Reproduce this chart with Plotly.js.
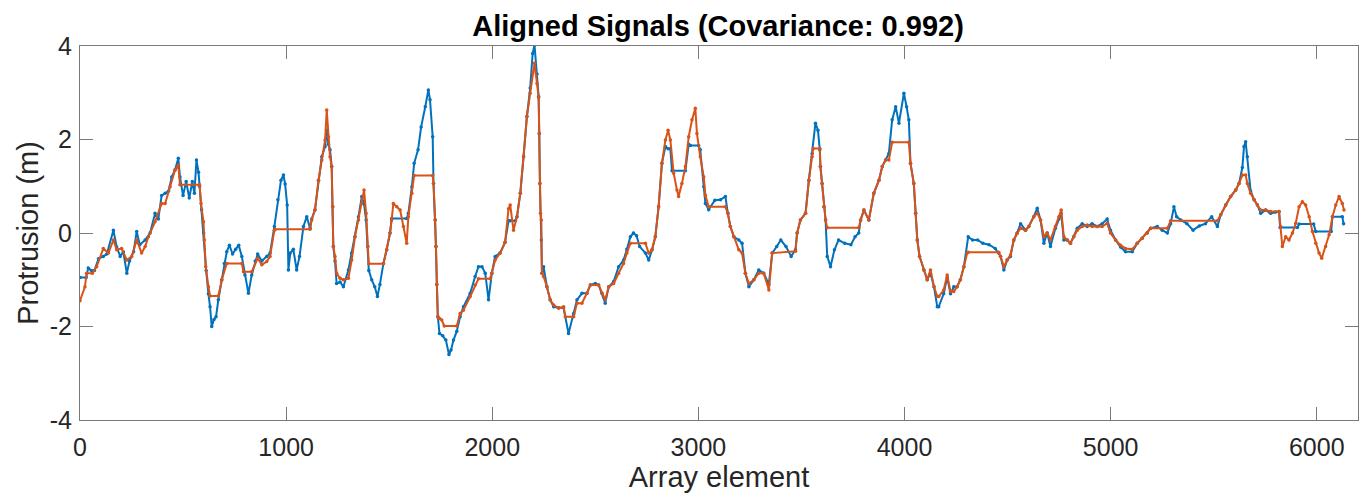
<!DOCTYPE html>
<html>
<head>
<meta charset="utf-8">
<script src="https://cdn.plot.ly/plotly-3.0.1.min.js"></script>
<style>
html,body{margin:0;padding:0;background:#fff;}
#chart{width:1360px;height:496px;}
</style>
</head>
<body>
<div id="chart"></div>
<script>
// Orange series (aligned signal) — element index and protrusion (m)
const orangeX = [0,24,32,60,81,113,138,162,178,202,227,251,275,299,316,332,364,396,413,437,461,477,485,580,587,599,603,610,623,631,671,688,712,785,793,833,862,882,906,922,943,946,1116,1124,1140,1157,1173,1189,1197,1205,1213,1221,1226,1229,1237,1245,1262,1278,1302,1318,1334,1351,1367,1378,1388,1396,1401,1472,1488,1504,1512,1520,1537,1553,1569,1585,1593,1610,1621,1711,1715,1723,1727,1731,1736,1744,1755,1767,1828,1844,1860,1893,1917,1933,1990,1998,2014,2038,2062,2079,2087,2103,2120,2136,2152,2168,2184,2196,2205,2217,2225,2228,2231,2234,2238,2241,2249,2265,2281,2298,2322,2346,2354,2395,2411,2435,2459,2476,2516,2532,2548,2565,2589,2613,2637,2653,2670,2743,2759,2775,2791,2807,2823,2840,2853,2864,2880,2896,2904,2920,2937,2953,2969,2985,2993,3009,3026,3034,3050,3131,3143,3155,3172,3196,3212,3228,3245,3269,3293,3317,3342,3358,3471,3479,3495,3520,3536,3552,3557,3589,3592,3600,3609,3617,3625,3778,3787,3803,3827,3851,3876,3892,3908,3924,3940,4021,4029,4045,4054,4062,4073,4094,4110,4126,4143,4159,4166,4190,4207,4223,4239,4255,4271,4288,4304,4309,4457,4466,4482,4498,4514,4530,4546,4563,4587,4603,4627,4644,4660,4676,4692,4708,4732,4749,4760,4773,4789,4805,4821,4838,4862,4886,4910,4935,4959,4983,4999,5024,5048,5072,5105,5129,5153,5177,5194,5275,5291,5518,5534,5558,5582,5607,5623,5639,5655,5663,5679,5696,5712,5728,5752,5776,5817,5825,5833,5849,5865,5882,5898,5914,5930,5946,5963,5979,5995,6011,6024,6043,6060,6076,6092,6108,6124,6132];
const orangeY = [-1.45,-1.15,-0.86,-0.86,-0.72,-0.33,-0.43,-0.15,-0.36,-0.33,-0.58,-0.5,-0.15,-0.43,-0.29,-0.08,0.24,0.63,0.63,0.99,1.35,1.45,1.03,1.03,0.63,0.24,-0.15,-0.72,-1.15,-1.35,-1.35,-1.0,-0.65,-0.65,-0.83,-0.83,-0.54,-0.68,-0.61,-0.5,0.06,0.08,0.08,0.28,0.49,1.13,1.56,1.99,2.63,2.06,1.63,1.42,0.56,-0.29,-0.5,-0.86,-0.97,-1.0,-0.97,-0.58,-0.08,0.28,0.63,0.92,0.42,-0.29,-0.66,-0.66,-0.36,0.0,0.28,0.63,0.56,0.49,0.14,-0.22,0.35,0.85,1.23,1.23,1.06,0.28,-0.29,-1.1,-1.79,-1.83,-1.86,-1.99,-1.99,-1.72,-1.65,-1.36,-1.11,-0.98,-0.98,-0.86,-0.58,-0.43,-0.2,0.52,0.6,0.06,0.35,0.85,1.63,2.49,2.99,3.42,3.63,3.2,2.9,2.13,1.06,0.42,0.28,-0.86,-0.93,-1.15,-1.43,-1.54,-1.61,-1.58,-1.79,-1.79,-1.5,-1.5,-1.29,-1.11,-1.11,-1.29,-1.43,-1.15,-1.08,-0.86,-0.65,-0.43,-0.22,-0.22,-0.43,-0.36,-0.08,0.56,1.49,1.99,2.2,1.99,1.28,0.92,0.78,1.06,1.42,2.06,2.42,2.67,2.13,1.63,1.2,0.81,0.56,0.56,0.42,0.14,-0.08,-0.36,-0.43,-0.86,-1.08,-1.0,-0.86,-0.86,-1.22,-0.43,-0.39,0.0,0.28,0.42,1.13,1.63,1.81,1.81,1.42,1.06,0.56,0.28,0.11,0.11,0.28,0.49,0.28,0.85,1.13,1.42,1.56,1.56,1.94,1.94,1.49,1.06,0.42,-0.15,-0.5,-0.79,-1.0,-0.79,-1.15,-1.36,-1.36,-1.22,-0.9,-1.25,-1.25,-1.15,-1.0,-0.72,-0.43,-0.41,-0.41,-0.5,-0.72,-0.58,-0.47,-0.15,-0.01,0.1,0.06,0.14,0.35,0.42,0.28,-0.08,0.0,-0.15,0.14,0.35,0.49,-0.08,-0.15,-0.22,-0.08,0.06,0.14,0.17,0.14,0.14,0.14,0.21,0.0,-0.15,-0.26,-0.33,-0.35,-0.22,-0.11,0.0,0.1,0.1,0.26,0.26,0.39,0.6,0.78,0.92,1.06,1.24,1.24,1.06,0.85,0.71,0.6,0.49,0.49,0.46,0.46,0.14,-0.29,-0.08,-0.15,0.0,0.21,0.56,0.67,0.6,0.35,0.03,-0.22,-0.43,-0.54,-0.29,-0.04,0.35,0.6,0.78,0.63,0.49];

// Blue series (reference signal)
const blueX = [0,30,40,55,70,90,113,130,162,178,195,210,227,240,260,275,290,316,340,364,380,396,413,430,445,461,477,485,500,515,530,545,555,565,575,580,590,600,612,623,631,639,650,660,671,688,700,712,725,740,755,770,785,800,817,833,850,862,882,906,922,943,960,975,987,995,1005,1011,1020,1035,1051,1065,1084,1100,1116,1124,1140,1157,1173,1189,1197,1205,1213,1221,1226,1229,1237,1245,1262,1278,1302,1318,1334,1351,1367,1378,1388,1396,1401,1415,1430,1443,1455,1472,1488,1504,1512,1585,1593,1610,1621,1640,1655,1675,1690,1698,1711,1715,1723,1727,1731,1736,1744,1760,1775,1790,1800,1812,1828,1844,1860,1893,1917,1933,1950,1966,1982,1998,2014,2038,2062,2079,2087,2112,2120,2136,2152,2168,2184,2196,2205,2217,2225,2228,2231,2238,2241,2249,2265,2281,2298,2322,2346,2370,2395,2411,2435,2459,2476,2500,2516,2532,2548,2565,2589,2613,2637,2653,2670,2685,2700,2715,2743,2759,2775,2791,2807,2823,2840,2853,2864,2872,2937,2953,2961,3001,3009,3026,3034,3050,3080,3107,3131,3143,3155,3172,3196,3212,3228,3245,3269,3293,3317,3342,3358,3380,3400,3425,3450,3471,3479,3495,3520,3536,3552,3568,3580,3589,3592,3600,3609,3617,3625,3641,3660,3680,3710,3740,3760,3778,3787,3803,3827,3851,3876,3892,3908,3924,3940,3957,3973,3997,4010,4021,4029,4045,4054,4062,4073,4094,4110,4126,4143,4159,4166,4190,4207,4223,4239,4255,4271,4288,4309,4330,4355,4380,4410,4440,4457,4466,4482,4498,4514,4530,4546,4563,4587,4603,4627,4644,4660,4676,4692,4708,4732,4749,4760,4773,4789,4805,4821,4838,4862,4886,4910,4935,4959,4983,4999,5024,5048,5072,5105,5129,5153,5177,5194,5226,5250,5275,5291,5307,5320,5340,5370,5400,5430,5460,5490,5518,5534,5558,5582,5607,5623,5639,5647,5655,5663,5679,5696,5712,5728,5752,5776,5800,5817,5822,5906,5914,5985,5995,6070,6076,6124,6130];
const blueY = [-0.95,-0.95,-0.75,-0.8,-0.8,-0.55,-0.5,-0.45,0.06,-0.3,-0.5,-0.4,-0.86,-0.6,-0.4,0.03,-0.25,-0.15,0.0,0.42,0.3,0.8,0.85,0.9,1.2,1.35,1.6,1.2,0.8,1.1,0.75,1.1,0.85,1.56,1.3,1.0,0.5,0.0,-0.8,-1.3,-1.58,-2.0,-1.85,-1.79,-1.43,-1.0,-0.65,-0.4,-0.26,-0.45,-0.35,-0.26,-0.5,-0.9,-1.29,-0.9,-0.6,-0.45,-0.6,-0.5,-0.43,0.14,0.71,1.13,1.24,1.05,0.6,-0.79,-0.43,-0.35,-0.79,-0.5,0.14,0.35,0.1,0.3,0.5,1.13,1.63,1.85,2.2,1.9,1.78,1.42,0.56,-0.29,-0.6,-1.08,-1.05,-1.15,-0.79,-0.43,-0.08,0.35,0.78,0.62,0.28,-0.29,-0.8,-1.0,-1.15,-1.36,-1.1,-0.65,-0.36,0.0,0.31,0.31,0.42,0.99,1.49,1.78,2.27,2.7,3.06,2.85,2.06,1.06,0.28,-0.29,-1.1,-1.79,-2.15,-2.2,-2.29,-2.6,-2.5,-2.29,-2.1,-1.79,-1.58,-1.29,-0.93,-0.72,-0.72,-0.86,-1.43,-0.86,-0.5,-0.43,-0.2,0.26,0.26,0.26,0.35,0.85,1.63,2.49,3.1,3.84,4.02,3.4,2.92,2.13,1.06,-0.15,-0.86,-0.72,-1.15,-1.43,-1.58,-1.6,-1.6,-2.15,-1.72,-1.43,-1.29,-1.29,-1.11,-1.08,-1.11,-1.29,-1.5,-1.15,-1.04,-0.72,-0.58,-0.35,-0.08,0.0,-0.06,-0.29,-0.43,-0.58,-0.36,-0.08,0.56,1.49,1.85,1.8,1.8,1.33,1.33,1.9,1.87,1.87,1.78,0.99,0.63,0.5,0.7,0.71,0.78,0.42,0.14,-0.08,-0.15,-0.22,-0.86,-1.15,-1.0,-0.79,-0.86,-1.1,-0.43,-0.29,-0.15,-0.29,-0.5,-0.36,0.0,0.28,0.42,1.13,1.7,2.35,2.2,1.78,1.42,1.06,0.56,0.28,-0.5,-0.72,-0.36,-0.15,-0.22,-0.25,-0.08,0.0,0.28,0.49,0.28,0.85,1.13,1.42,1.56,1.7,2.42,2.7,2.35,2.99,2.7,2.42,1.49,1.06,0.42,-0.15,-0.5,-0.79,-1.0,-0.86,-1.15,-1.58,-1.58,-1.3,-0.95,-1.3,-1.15,-1.15,-1.0,-0.72,-0.08,-0.15,-0.15,-0.22,-0.25,-0.33,-0.43,-0.5,-0.79,-0.58,-0.5,-0.15,0.0,0.2,0.06,0.14,0.35,0.53,0.28,-0.22,0.0,-0.29,0.1,0.3,0.42,-0.15,-0.15,-0.22,-0.08,0.1,0.2,0.14,0.2,0.14,0.2,0.3,0.06,-0.15,-0.3,-0.4,-0.4,-0.22,-0.11,0.0,0.1,0.14,0.06,0.0,0.2,0.56,0.35,0.28,0.2,0.06,0.15,0.2,0.35,0.14,0.39,0.6,0.78,0.92,1.06,1.4,1.85,1.95,1.63,0.9,0.71,0.6,0.42,0.49,0.42,0.45,0.46,0.12,0.12,0.19,0.19,0.03,0.03,0.35,0.35,0.2];

const xTicks = [0,1000,2000,3000,4000,5000,6000];
const yTicks = [-4,-2,0,2,4];

const FONT = 'Liberation Sans, Arial, Helvetica, sans-serif';
const axisCol = '#262626';
const boxCol = '#7a7a7a';

const traces = [
  {x: blueX, y: blueY, type: 'scatter', mode: 'lines+markers',
   line: {color: '#0072BD', width: 2}, marker: {color: '#0072BD', size: 3.5}, hoverinfo: 'x+y'},
  {x: orangeX, y: orangeY, type: 'scatter', mode: 'lines+markers',
   line: {color: '#D95319', width: 2}, marker: {color: '#D95319', size: 3.5}, hoverinfo: 'x+y'}
];

const layout = {
  width: 1360, height: 496,
  margin: {l: 80, r: 2, t: 46, b: 76},
  paper_bgcolor: '#ffffff', plot_bgcolor: '#ffffff',
  showlegend: false,
  font: {family: FONT, color: axisCol, size: 26},
  title: {text: '<b>Aligned Signals (Covariance: 0.992)</b>', font: {family: FONT, size: 29, color: '#000'},
          x: 0.528, xanchor: 'center', y: 0.948, yanchor: 'middle'},
  xaxis: {range: [0, 6200], tickvals: xTicks, ticktext: xTicks.map(String),
          ticks: 'inside', ticklen: 13, tickcolor: boxCol, tickwidth: 1,
          showline: true, linecolor: boxCol, linewidth: 1, mirror: 'ticks',
          showgrid: false, zeroline: false, ticklabelstandoff: 5,
          tickfont: {size: 25, color: axisCol},
          title: {text: 'Array element', font: {size: 29, color: axisCol}, standoff: 4}},
  yaxis: {range: [-4, 4], tickvals: yTicks, ticktext: yTicks.map(String),
          ticks: 'inside', ticklen: 13, tickcolor: boxCol, tickwidth: 1,
          showline: true, linecolor: boxCol, linewidth: 1, mirror: 'ticks',
          showgrid: false, zeroline: false, ticklabelstandoff: 2,
          tickfont: {size: 25, color: axisCol},
          title: {text: 'Protrusion (m)', font: {size: 29, color: axisCol}, standoff: 2}}
};

Plotly.newPlot('chart', traces, layout, {displayModeBar: false, staticPlot: true});
</script>
</body>
</html>
